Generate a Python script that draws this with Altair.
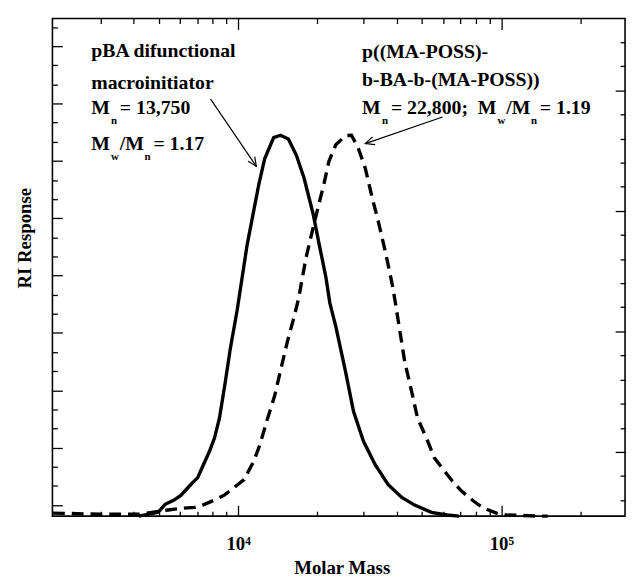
import altair as alt
import pandas as pd

# ---- data ----
solid_mass = [4190, 4970, 5280, 5710, 6070, 6610, 7020, 7210, 7790, 8130,
              8490, 8940, 9330, 9920, 10810, 11990, 12620, 13640,
              14490, 15520, 16630, 17810, 19260, 20280, 21540, 22300, 23490, 25600,
              27430, 29910, 33160, 37100, 41850, 46820, 54220, 62230, 69020]
solid_ri = [0, 0.010, 0.031, 0.042, 0.055, 0.083, 0.101, 0.119, 0.171, 0.205,
            0.257, 0.353, 0.438, 0.542, 0.711, 0.872, 0.939, 0.994,
            1.0, 0.990, 0.948, 0.887, 0.794, 0.716, 0.628, 0.560, 0.498, 0.379,
            0.275, 0.197, 0.135, 0.083, 0.049, 0.029, 0.010, 0.003, 0]

dashed_mass = [1980, 2970, 4190, 5420, 6170, 6840, 7330, 8130, 8860, 9330,
               10530, 11480, 12090, 12840, 13760, 14620, 15390, 16210, 16930, 18130,
               19260, 20280, 21180, 22110, 23490, 25600, 26960, 28640, 30420, 32320,
               34020, 36150, 38400, 39400, 42950, 45620, 48050, 51930, 55640,
               60660, 64970, 70220, 78560, 85630, 95790, 104400, 128400, 137600, 150000]
dashed_ri = [0.008, 0.005, 0.005, 0.016, 0.021, 0.023, 0.029, 0.042, 0.055, 0.067,
             0.096, 0.145, 0.187, 0.249, 0.316, 0.394, 0.459, 0.516, 0.568, 0.680,
             0.757, 0.820, 0.872, 0.931, 0.975, 0.999, 1.0, 0.965, 0.913, 0.835,
             0.776, 0.698, 0.612, 0.568, 0.405, 0.327, 0.257, 0.205, 0.153,
             0.119, 0.093, 0.067, 0.039, 0.021, 0.008, 0.003, 0.001, 0, 0]

# annotation text (main lines)
ann_text = ["pBA difunctional", "macroinitiator", "M", "= 13,750", "M", "/M", "= 1.17",
            "p((MA-POSS)-", "b-BA-b-(MA-POSS))", "M", "= 22,800;", "M", "/M", "= 1.19"]
ann_mass = [2767, 2767, 2767, 3553, 2767, 3553, 4764,
            29570, 29570, 29570, 38060, 81330, 104400, 140000]
ann_ri = [1.2055, 1.1214, 1.0566, 1.0566, 0.9616, 0.9616, 0.9616,
          1.2036, 1.130, 1.0566, 1.0566, 1.0566, 1.0566, 1.0566]

# subscripts
sub_text = ["n", "w", "n", "n", "w", "n"]
sub_mass = [3288, 3288, 4409, 35230, 96600, 129500]
sub_ri = [1.0298, 0.9339, 0.9339, 1.0298, 1.0298, 1.0298]

# arrows (start -> tip)
arr_mass = [7858, 59760]
arr_ri = [1.0947, 1.048]
arr_mass2 = [11730, 30420]
arr_ri2 = [0.9183, 0.978]
arr_angle = [145.7, 251.0]

# axis ticks
x_major = [10000, 100000]
x_minor = [3000, 4000, 5000, 6000, 7000, 8000, 9000,
           20000, 30000, 40000, 50000, 60000, 70000, 80000, 90000, 200000]
x_ticks = sorted(x_major + x_minor)
y_ticks = [round(0.0291 + 0.0502 * k, 4) for k in range(26)]
y_major = y_ticks[::3]
yr_ticks = [round(1.118 + 0.0633 * j, 4) for j in range(-17, 3)]
yr_major = [round(1.118 + 0.0633 * j, 4) for j in (-15, -10, -5, 0)]

# ---- chart ----
W, H = 580, 504
FONT = "Liberation Serif"

solid_df = pd.DataFrame({"mass": solid_mass, "ri": solid_ri})
dashed_df = pd.DataFrame({"mass": dashed_mass, "ri": dashed_ri})
ann_df = pd.DataFrame({"mass": ann_mass, "ri": ann_ri, "t": ann_text})
sub_df = pd.DataFrame({"mass": sub_mass, "ri": sub_ri, "t": sub_text})
arr_df = pd.DataFrame({"mass": arr_mass, "ri": arr_ri, "mass2": arr_mass2,
                       "ri2": arr_ri2, "angle": arr_angle})

xscale = alt.Scale(type="log", domain=[1970, 295000], nice=False)
yscale = alt.Scale(domain=[0, 1.3065], nice=False, zero=False)


def major_test(vals):
    return "indexof([" + ",".join(str(v) for v in vals) + "], datum.value) >= 0"


tick_x = {"condition": {"test": major_test(x_major), "value": 11}, "value": 5}
tick_y = {"condition": {"test": major_test(y_major), "value": 10}, "value": 5}
tick_yr = {"condition": {"test": major_test(yr_major), "value": 10}, "value": 5}

common_tick = dict(labels=False, domain=False, grid=False, title=None,
                   tickColor="black", tickWidth=1.3)

x_label_axis = alt.Axis(orient="bottom", values=x_major,
                        labelExpr="datum.value == 10000 ? '10\u2074' : '10\u2075'",
                        ticks=False, domain=False, grid=False,
                        labelFont=FONT, labelFontWeight="bold", labelFontSize=19,
                        labelColor="black", labelPadding=19,
                        title="Molar Mass", titleFont=FONT, titleFontSize=19,
                        titleFontWeight="bold", titleColor="black",
                        titleX=293, titleY=58, titleBaseline="alphabetic")
x_bottom_ticks = alt.Axis(orient="top", offset=-H, values=x_ticks, tickSize=tick_x, **common_tick)
x_top_ticks = alt.Axis(orient="bottom", offset=-H, values=x_ticks, tickSize=tick_x, **common_tick)

y_title_axis = alt.Axis(orient="left", ticks=False, labels=False, domain=False, grid=False,
                        title="RI Response", titleFont=FONT, titleFontSize=19,
                        titleFontWeight="bold", titleColor="black",
                        titleX=-28, titleY=222, titleAlign="center",
                        titleBaseline="middle", titleAngle=270)
y_left_ticks = alt.Axis(orient="right", offset=-W, values=y_ticks, tickSize=tick_y, **common_tick)
y_right_ticks = alt.Axis(orient="left", offset=-W, values=yr_ticks, tickSize=tick_yr, **common_tick)

solid = alt.Chart(solid_df).mark_line(color="black", strokeWidth=3.4).encode(
    x=alt.X("mass:Q", scale=xscale, axis=x_label_axis),
    y=alt.Y("ri:Q", scale=yscale, axis=y_title_axis),
)

dashed = alt.Chart(dashed_df).mark_line(color="black", strokeWidth=3.4,
                                        strokeDash=[12, 7]).encode(
    x=alt.X("mass:Q", scale=xscale, axis=x_bottom_ticks),
    y=alt.Y("ri:Q", scale=yscale, axis=y_left_ticks),
)

texts = alt.Chart(ann_df).mark_text(font=FONT, fontSize=20, fontWeight="bold",
                                    align="left", baseline="alphabetic",
                                    color="black").encode(
    x=alt.X("mass:Q", scale=xscale, axis=x_top_ticks),
    y=alt.Y("ri:Q", scale=yscale, axis=y_right_ticks),
    text="t:N",
)

subs = alt.Chart(sub_df).mark_text(font=FONT, fontSize=11, fontWeight="bold",
                                   align="left", baseline="alphabetic",
                                   color="black").encode(
    x=alt.X("mass:Q", scale=xscale, axis=None),
    y=alt.Y("ri:Q", scale=yscale, axis=None),
    text="t:N",
)

arrows = alt.Chart(arr_df).mark_rule(color="black", strokeWidth=1.2).encode(
    x=alt.X("mass:Q", scale=xscale, axis=None),
    y=alt.Y("ri:Q", scale=yscale, axis=None),
    x2="mass2:Q",
    y2="ri2:Q",
)

heads = alt.Chart(arr_df).mark_point(shape="M-0.45,1L0,0L0.45,1", filled=False,
                                     size=330, color="black", strokeWidth=1.2,
                                     opacity=1).encode(
    x=alt.X("mass2:Q", scale=xscale, axis=None),
    y=alt.Y("ri2:Q", scale=yscale, axis=None),
    angle=alt.Angle("angle:Q", scale=None),
)

chart = alt.layer(solid, dashed, texts, subs, arrows, heads).resolve_axis(
    x="independent", y="independent"
).properties(
    width=W, height=H,
    padding={"left": 45, "top": 7, "right": 3, "bottom": 58},
    autosize=alt.AutoSizeParams(type="none"),
    background="white",
).configure_view(stroke="black", strokeWidth=1.6)

chart.save("out.html", embed_options={"renderer": "svg", "actions": False})
